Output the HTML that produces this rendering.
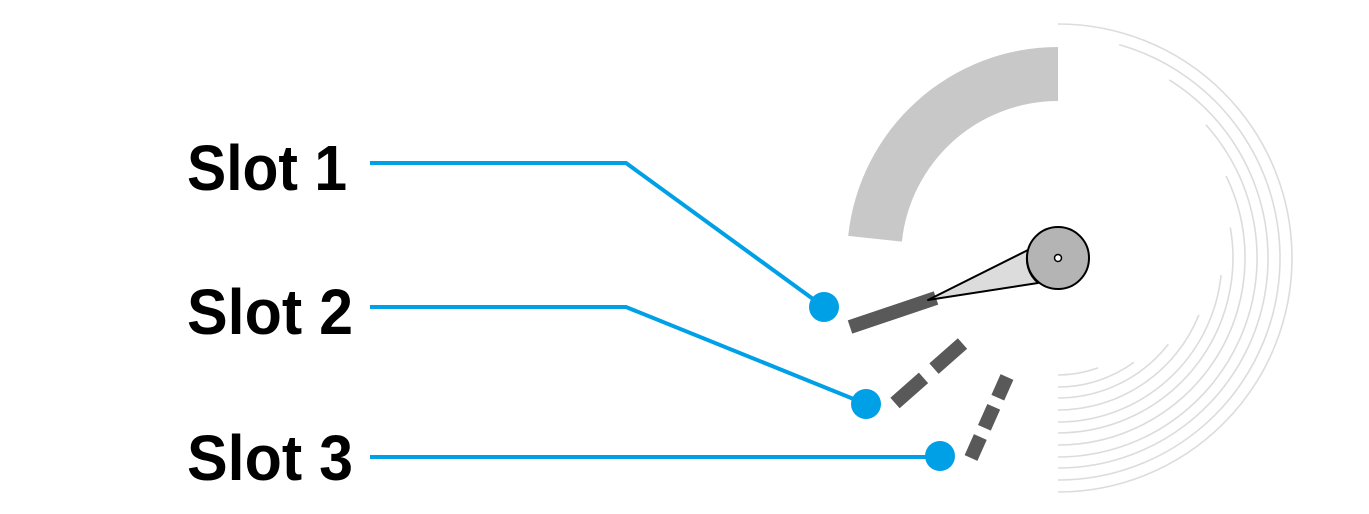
<!DOCTYPE html>
<html><head><meta charset="utf-8"><style>
html,body{margin:0;padding:0;background:#fff;width:1369px;height:514px;overflow:hidden}
svg{display:block}
</style></head><body>
<svg width="1369" height="514" viewBox="0 0 1369 514" xmlns="http://www.w3.org/2000/svg">
<g fill="none" stroke="#dcdcdc" stroke-width="1.6">
<path d="M1058,24 A234,234 0 0 1 1058,492"/>
<path d="M1119.2,44.6 A222,222 0 0 1 1058,480"/>
<path d="M1169.3,79.9 A210,210 0 0 1 1058,468"/>
<path d="M1205.9,124.8 A199,199 0 0 1 1058,457"/>
<path d="M1226.1,176 A187,187 0 0 1 1058,445"/>
<path d="M1230.3,227.6 A175,175 0 0 1 1058,433"/>
<path d="M1221.1,275.1 A164,164 0 0 1 1058,422"/>
<path d="M1198.9,314.9 A152,152 0 0 1 1058,410"/>
<path d="M1168.3,344.2 A140,140 0 0 1 1058,398"/>
<path d="M1133.8,362.4 A129,129 0 0 1 1058,387"/>
<path d="M1098,367.9 A117,117 0 0 1 1058,375"/>
</g>
<path d="M1058,47 A211,211 0 0 0 848.2,235.9 L901.9,241.6 A157,157 0 0 1 1058,101 Z" fill="#c8c8c8"/>
<g fill="none" stroke="#00a0e6" stroke-width="4">
<polyline points="370,163 626,163 824,307"/>
<polyline points="370,307 626,307 866,404"/>
<polyline points="370,457 940,457"/>
</g>
<g fill="#00a0e6">
<circle cx="824" cy="307" r="15"/>
<circle cx="866" cy="404" r="15"/>
<circle cx="940" cy="456" r="15"/>
</g>
<g stroke="#595959" stroke-width="14" fill="none">
<line x1="850" y1="327" x2="936" y2="298"/>
<line x1="895" y1="403" x2="963" y2="343" stroke-dasharray="38 14"/>
<line x1="971" y1="458" x2="1007" y2="377" stroke-dasharray="23 10"/>
</g>
<polygon points="928,300 1028,250 1038,283" fill="#dcdcdc" stroke="#000" stroke-width="2" stroke-linejoin="round"/>
<circle cx="1058" cy="258" r="31" fill="#b4b4b4" stroke="#000" stroke-width="2"/>
<path d="M1028,250 A31,31 0 0 0 1038,283" fill="none" stroke="#000" stroke-width="1.5"/>
<circle cx="1058" cy="258" r="3.5" fill="#fff" stroke="#000" stroke-width="1.5"/>
<g font-family="Liberation Sans, sans-serif" font-weight="bold" font-size="64" fill="#000">
<text x="187" y="190" textLength="160" lengthAdjust="spacingAndGlyphs">Slot 1</text>
<text x="187" y="334" textLength="166" lengthAdjust="spacingAndGlyphs">Slot 2</text>
<text x="187" y="480" textLength="166" lengthAdjust="spacingAndGlyphs">Slot 3</text>
</g>
</svg>
</body></html>
